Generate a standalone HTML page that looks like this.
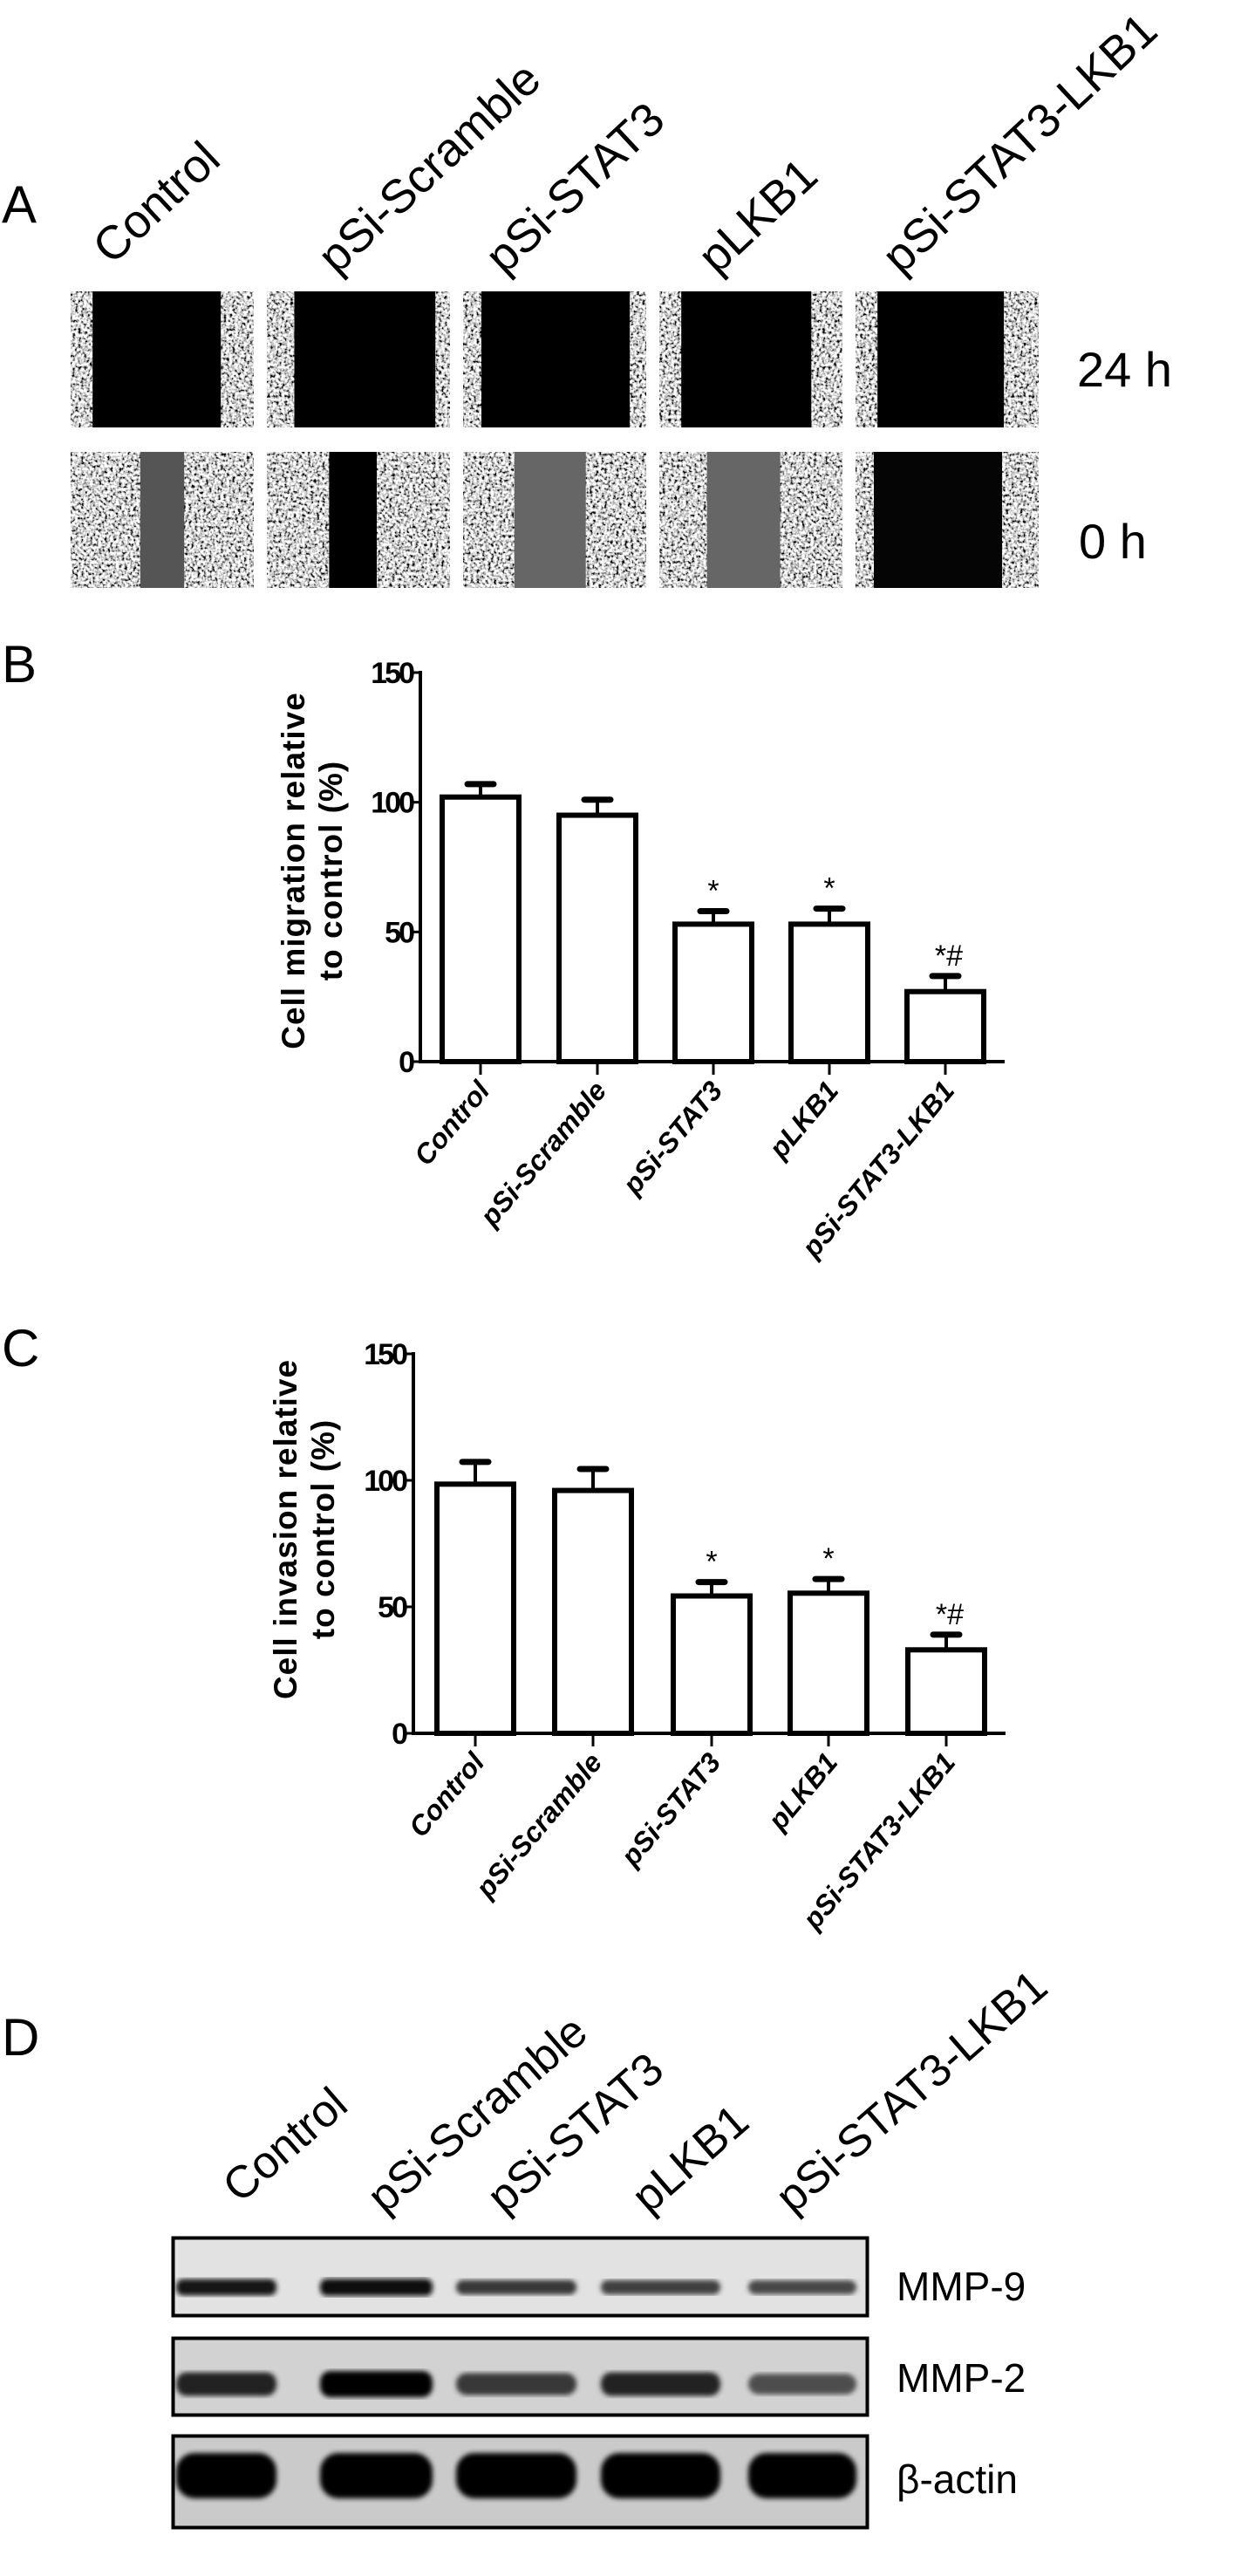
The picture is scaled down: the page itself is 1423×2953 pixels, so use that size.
<!DOCTYPE html>
<html><head><meta charset="utf-8"><style>
html,body{margin:0;padding:0;background:#fff;}
svg{display:block;font-family:"Liberation Sans",Arial,sans-serif;}
</style></head><body>
<svg id="fig" width="1423" height="2953" viewBox="0 0 1423 2953" xmlns="http://www.w3.org/2000/svg">
<defs>
<filter id="cells" x="0" y="0" width="1" height="1" filterUnits="objectBoundingBox">
<feTurbulence type="fractalNoise" baseFrequency="0.3" numOctaves="2" seed="3" result="n"/>
<feColorMatrix in="n" type="matrix" values="3 0 0 0 -0.85  3 0 0 0 -0.85  3 0 0 0 -0.85  0 0 0 0 1"/>
</filter>
<filter id="blur3"><feGaussianBlur stdDeviation="3"/></filter>
</defs>

<text x="2" y="255" font-size="60">A</text>
<text x="2" y="782" font-size="60">B</text>
<text x="2" y="1566" font-size="60">C</text>
<text x="2" y="2356" font-size="60">D</text>

<g id="panelA">
<text transform="translate(128,305) rotate(-43)" font-size="54">Control</text>
<text transform="translate(386,316) rotate(-43)" font-size="54">pSi-Scramble</text>
<text transform="translate(578,316) rotate(-43)" font-size="54">pSi-STAT3</text>
<text transform="translate(822,316) rotate(-43)" font-size="54">pLKB1</text>
<text transform="translate(1033,316) rotate(-43)" font-size="54">pSi-STAT3-LKB1</text>
<text x="1235" y="443" font-size="56">24 h</text>
<text x="1237" y="640" font-size="56">0 h</text>
</g>

<g id="chartB"></g>
<g id="chartC"></g>

<g id="panelD">
<text transform="translate(275,2527) rotate(-41)" font-size="52">Control</text>
<text transform="translate(441,2539) rotate(-41)" font-size="52">pSi-Scramble</text>
<text transform="translate(578,2539) rotate(-41)" font-size="52">pSi-STAT3</text>
<text transform="translate(744,2539) rotate(-41)" font-size="52">pLKB1</text>
<text transform="translate(909,2539) rotate(-41)" font-size="52">pSi-STAT3-LKB1</text>
<text x="1028" y="2637" font-size="46">MMP-9</text>
<text x="1028" y="2742" font-size="46">MMP-2</text>
<text x="1028" y="2858" font-size="46">β-actin</text>
</g>
</svg>
<script>
var categories = ["Control","pSi-Scramble","pSi-STAT3","pLKB1","pSi-STAT3-LKB1"];
var migrationValues = [102, 95, 53, 53, 27];
var migrationErrors = [5, 6, 5, 6, 6];
var invasionValues = [98.5, 96, 54.3, 55.4, 33];
var invasionErrors = [8.8, 8.5, 5.5, 5.6, 6];
var significance = ["", "", "*", "*", "*#"];
var yTicks = [0, 50, 100, 150];
var gap24Left = [0.12, 0.15, 0.10, 0.12, 0.12];
var gap24Right = [0.82, 0.92, 0.91, 0.83, 0.81];
var gap0Left = [0.38, 0.34, 0.28, 0.26, 0.10];
var gap0Right = [0.62, 0.60, 0.67, 0.66, 0.80];
var gap0Shade = ["#555", "#000", "#666", "#666", "#050505"];
var mmp9 = [0.85, 0.95, 0.6, 0.55, 0.5];
var mmp2 = [0.75, 1.0, 0.6, 0.75, 0.45];
var actin = [1, 1, 1, 1, 1];

var NS = "http://www.w3.org/2000/svg";
function mk(tag, attrs, parent){
  var e = document.createElementNS(NS, tag);
  for (var k in attrs) e.setAttribute(k, attrs[k]);
  parent.appendChild(e);
  return e;
}

var panelA = document.getElementById("panelA");
var cellX = [81, 306, 531, 756, 981];
var cellW = 210;
function woundCell(x, y, h, gl, gr, shade, nm){
  var g = mk("g", {}, panelA);
  
  
  mk("rect", {x:x, y:y, width:cellW, height:h, fill:"#888", filter:"url(#cells)"}, g);
  var r = mk("rect", {x:x + gl*cellW, y:y, width:(gr-gl)*cellW, height:h, fill:shade}, g);
  
  
}
for (var i = 0; i < 5; i++){
  woundCell(cellX[i], 334, 156, gap24Left[i], gap24Right[i], "#000", "wound-24h-" + i);
  woundCell(cellX[i], 518, 156, gap0Left[i], gap0Right[i], gap0Shade[i], "wound-0h-" + i);
}

function barChart(gid, values, errors, y0, y150, axisX, axisEnd, centers, titleLines, titleX, titleY){
  var g = document.getElementById(gid);
  var unit = (y0 - y150) / 150;
  function yScale(v){ return y0 - v * unit; }
  var barW = 88;
  var ya = mk("line", {x1:axisX, y1:yScale(150)-2, x2:axisX, y2:y0+2, stroke:"#000", "stroke-width":4}, g);
  
  
  var xa = mk("line", {x1:axisX-2, y1:y0, x2:axisEnd, y2:y0, stroke:"#000", "stroke-width":4}, g);
  
  
  yTicks.forEach(function(t){
    var ty = yScale(t);
    mk("line", {x1:axisX-9, y1:ty, x2:axisX, y2:ty, stroke:"#000", "stroke-width":3}, g);
    var tl = mk("text", {x:axisX-9, y:ty+12, "font-size":34, "font-weight":"bold", "text-anchor":"end", "letter-spacing":"-3"}, g);
    
    
    tl.textContent = t;
  });
  for (var i = 0; i < values.length; i++){
    var cx = centers[i];
    var top = yScale(values[i]);
    var et = yScale(values[i] + errors[i]);
    mk("line", {x1:cx, y1:top, x2:cx, y2:et, stroke:"#000", "stroke-width":4}, g);
    var cap = mk("line", {x1:cx-15, y1:et, x2:cx+15, y2:et, stroke:"#000", "stroke-width":7, "stroke-linecap":"round"}, g);
    
    
    var b = mk("rect", {x:cx-barW/2, y:top, width:barW, height:y0-top, fill:"#fff", stroke:"#000", "stroke-width":6}, g);
    
    
    mk("line", {x1:cx, y1:y0, x2:cx, y2:y0+15, stroke:"#000", "stroke-width":3}, g);
    if (significance[i]){
      var s = mk("text", {x:cx+(significance[i].length>1?4:0), y:et-12, "font-size":34, "text-anchor":"middle"}, g);
      
      
      s.textContent = significance[i];
    }
    var lab = mk("text", {transform:"translate(" + (cx+12) + "," + (y0+34) + ") rotate(-50)", "font-size":32, "font-weight":"bold", "font-style":"italic", "text-anchor":"end"}, g);
    
    
    lab.textContent = categories[i];
  }
  var t = mk("text", {transform:"translate(" + titleX + "," + titleY + ") rotate(-90)", "font-size":37, "font-weight":"bold", "text-anchor":"middle", "letter-spacing":"1"}, g);
  
  
  var t1 = mk("tspan", {x:0, y:0}, t); t1.textContent = titleLines[0];
  var t2 = mk("tspan", {x:0, y:43}, t); t2.textContent = titleLines[1];
}
barChart("chartB", migrationValues, migrationErrors, 1217, 771, 482, 1152, [551,685,818,951,1084], ["Cell migration relative","to control (%)"], 349, 998);
barChart("chartC", invasionValues, invasionErrors, 1987, 1552, 474, 1153, [545,680,816,950,1085], ["Cell invasion relative","to control (%)"], 340, 1753);

var panelD = document.getElementById("panelD");
var laneX = [202, 367, 523, 689, 858];
var laneW = [115, 129, 138, 137, 124];
var blots = [
  {name:"blot-mmp9", y:2564, h:92, vals:mmp9, bandY:2622, bandH:20, bg:"#e2e2e2"},
  {name:"blot-mmp2", y:2679, h:91, vals:mmp2, bandY:2733, bandH:30, bg:"#d2d2d2"},
  {name:"blot-actin", y:2791, h:108, vals:actin, bandY:2838, bandH:52, bg:"#cacaca"}
];
blots.forEach(function(b){
  var g = mk("g", {}, panelD);
  
  
  mk("rect", {x:197, y:b.y, width:799, height:b.h, fill:b.bg}, g);
  for (var i = 0; i < 5; i++){
    var v = b.vals[i];
    var c = Math.round(255 * (1 - v) * 0.55);
    var e = mk("rect", {x:laneX[i], y:b.bandY - b.bandH*(0.6+0.4*v)/2, width:laneW[i], height:b.bandH*(0.6+0.4*v), rx:b.bandH/2.5, fill:"rgb("+c+","+c+","+c+")", filter:"url(#blur3)"}, g);
    
    
  }
  mk("rect", {x:198.5, y:b.y+1.5, width:796, height:b.h-3, fill:"none", stroke:"#000", "stroke-width":4}, g);
});
</script>
</body></html>
